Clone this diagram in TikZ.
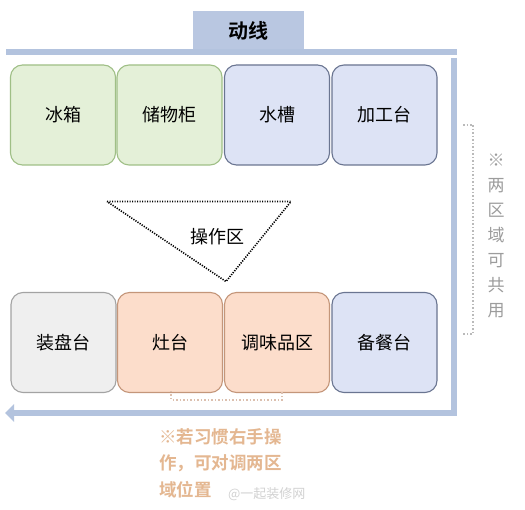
\documentclass[tikz,border=0pt]{standalone}
\usepackage{fontspec}
\setmainfont{Noto Sans CJK SC}
\newfontfamily\cjkb{Noto Sans CJK SC Bold}
\usetikzlibrary{arrows.meta}
\definecolor{barblue}{HTML}{B3C3DE}
\definecolor{titlefill}{HTML}{B9C7E1}
\definecolor{gfill}{HTML}{E4F0D8}
\definecolor{gdraw}{HTML}{9FBF86}
\definecolor{bfill}{HTML}{DDE3F5}
\definecolor{bdraw}{HTML}{6A7591}
\definecolor{ofill}{HTML}{FCDDCB}
\definecolor{odraw}{HTML}{C4967A}
\definecolor{wfill}{HTML}{EFEFEF}
\definecolor{wdraw}{HTML}{A3A3A3}
\definecolor{notegray}{HTML}{9C9C9C}
\definecolor{noteorange}{HTML}{E4B791}
\begin{document}
\begin{tikzpicture}[x=1pt,y=-1pt,
  zone/.style={draw, line width=1.1pt, rounded corners=12pt, minimum width=105pt, minimum height=100pt, inner sep=0pt, font=\fontsize{18}{21}\selectfont},
  gzone/.style={zone, fill=gfill, draw=gdraw},
  bzone/.style={zone, fill=bfill, draw=bdraw},
  ozone/.style={zone, fill=ofill, draw=odraw},
  wzone/.style={zone, fill=wfill, draw=wdraw},
  bar/.style={line width=6pt, draw=barblue},
  dots/.style={dash pattern=on 1.2pt off 1.3pt, line width=1.6pt},
  gdots/.style={dash pattern=on 1.5pt off 2pt, line width=1.6pt, draw=notegray!70}
]
\useasboundingbox (0,0) rectangle (525,510);
\fill[white] (0,0) rectangle (525,510);
% title
\node[fill=titlefill, minimum width=111pt, minimum height=39pt, inner sep=0pt, font=\cjkb\fontsize{20}{24}\selectfont] (title) at (248.5,31) {动线};
% bars
\coordinate (tl) at (6,52.5);
\coordinate (tr) at (457,52.5);
\coordinate (rt) at (453.5,58);
\coordinate (rb) at (453.5,416);
\coordinate (br) at (456.5,413);
\coordinate (bl) at (5,413);
\draw[bar] (tl) -- (tr);
\draw[bar] (rt) -- (rb);
\draw[bar, -{Triangle[width=17pt,length=9pt]}] (br) -- (bl);
% top row
\node[gzone] (fridge) at (63,115) {冰箱};
\node[gzone] (cabinet) at (169.5,115) {储物柜};
\node[bzone] (sink) at (277,115) {水槽};
\node[bzone] (prep) at (384.5,115) {加工台};
% bottom row
\node[wzone] (plate) at (63.5,342.5) {装盘台};
\node[ozone] (stove) at (170,342.5) {灶台};
\node[ozone] (spice) at (277,342.5) {调味品区};
\node[bzone] (serve) at (384.5,342.5) {备餐台};
% triangle
\coordinate (ta) at (107,201.5);
\coordinate (tb) at (291,201.5);
\coordinate (tc) at (226,281.5);
\draw[dots] (ta) -- (tb) -- (tc) -- cycle;
\node[font=\fontsize{18}{21}\selectfont] (work) at (217,237) {操作区};
% right bracket
\coordinate (r1) at (463,125);
\coordinate (r2) at (473,125);
\coordinate (r3) at (473,334);
\coordinate (r4) at (463,334);
\draw[gdots] (r1) -- (r2) -- (r3) -- (r4);
\node[text=notegray, align=center, font=\fontsize{17}{25}\selectfont, inner sep=0pt] (share) at (496,236) {※\\两\\区\\域\\可\\共\\用};
% bottom bracket
\coordinate (b1) at (171,391);
\coordinate (b2) at (171,400);
\coordinate (b3) at (282,400);
\coordinate (b4) at (282,391);
\draw[gdots, draw=odraw!60] (b1) -- (b2) -- (b3) -- (b4);
\node[text=noteorange, align=left, anchor=north west, inner sep=0pt, font=\cjkb\fontsize{17.5}{26.5}\selectfont] (swap) at (159,428) {※若习惯右手操\\作，可对调两区\\域位置};
\node[text=gray!35, anchor=west, inner sep=0pt, font=\fontsize{13}{15}\selectfont] (wm) at (228,494) {@一起装修网};
\end{tikzpicture}
\end{document}
